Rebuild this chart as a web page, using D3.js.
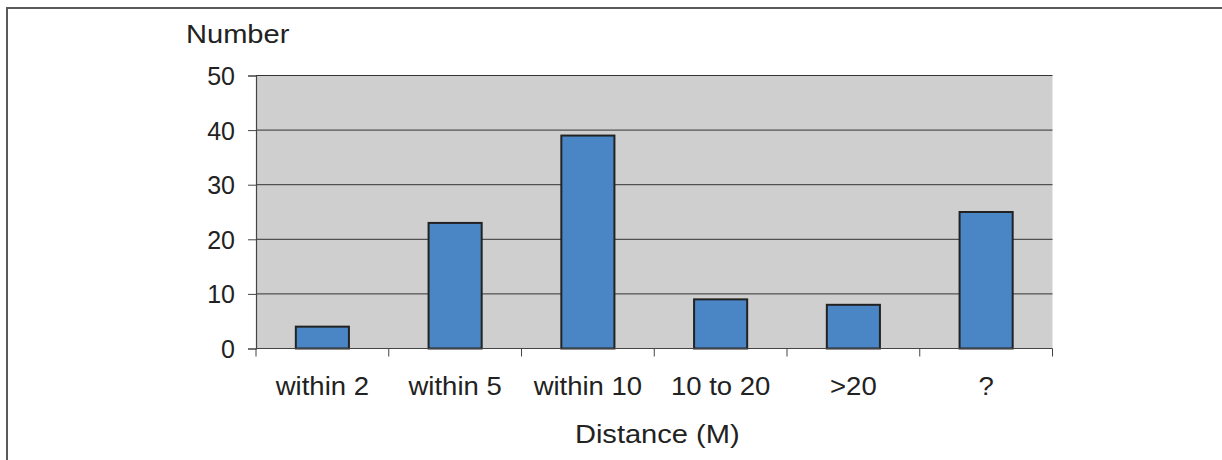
<!DOCTYPE html>
<html lang="en">
<meta charset="utf-8">
<head>
  <script src="https://d3js.org/d3.v7.min.js"></script>
  <style>
    body { margin: 0; background: #fff; }
    text { font-family: "Liberation Sans", Arial, sans-serif; fill: #222; }
  </style>
</head>
<body>
  <div id="my_dataviz"></div>
  <script>
    // data
    var categories = ["within 2", "within 5", "within 10", "10 to 20", ">20", "?"];
    var counts = [4, 23, 39, 9, 8, 25];
    var yTicks = [0, 10, 20, 30, 40, 50];

    var W = 1222, H = 460;
    var margin = { top: 75.5, right: 169.5, bottom: 111.5, left: 256 },
      width = W - margin.left - margin.right,
      height = H - margin.top - margin.bottom;

    var root = d3.select("#my_dataviz")
      .append("svg")
      .attr("width", W)
      .attr("height", H);

    // outer frame (left + top only, as in the picture)
    root.append("path")
      .attr("d", "M7,460 V8 H1222")
      .attr("fill", "none")
      .attr("stroke", "#5a5a5a")
      .attr("stroke-width", 2);

    var svg = root.append("g")
      .attr("transform", "translate(" + margin.left + "," + margin.top + ")");

    var x = d3.scaleBand().domain(categories).range([0, width]);
    var y = d3.scaleLinear().domain([0, 50]).range([height, 0]);

    // plot background
    svg.append("rect")
      .attr("width", width)
      .attr("height", height)
      .attr("fill", "#cfcfcf");

    // gridlines
    svg.selectAll(".grid").data(yTicks.filter(function (d) { return d > 0; }))
      .enter().append("line")
      .attr("x1", 0).attr("x2", width)
      .attr("y1", function (d) { return y(d); })
      .attr("y2", function (d) { return y(d); })
      .attr("stroke", "#333")
      .attr("stroke-width", 1);

    // bars
    var bw = x.bandwidth() * 0.4;
    svg.selectAll(".bar").data(counts)
      .enter().append("rect")
      .attr("x", function (d, i) { return x(categories[i]) + (x.bandwidth() - bw) / 2; })
      .attr("y", function (d) { return y(d); })
      .attr("width", bw)
      .attr("height", function (d) { return height - y(d); })
      .attr("fill", "#4a86c5")
      .attr("stroke", "#222")
      .attr("stroke-width", 2);

    // y axis
    var yAxis = svg.append("g")
      .call(d3.axisLeft(y).tickValues(yTicks).tickSize(8).tickPadding(13).tickFormat(d3.format("d")));
    yAxis.select(".domain").attr("stroke", "#444").attr("stroke-width", 1.2);
    yAxis.selectAll(".tick line").attr("stroke", "#444");
    yAxis.selectAll(".tick text")
      .style("font-size", "25px")
      .attr("fill", "#222")
      .attr("dy", "0.36em");

    // x axis: ticks on category boundaries
    var xg = svg.append("g").attr("transform", "translate(0," + height + ")");
    xg.append("line")
      .attr("x1", 0).attr("x2", width)
      .attr("stroke", "#444").attr("stroke-width", 1.2);
    var bounds = categories.map(function (c) { return x(c); }).concat([width]);
    xg.selectAll(".xt").data(bounds)
      .enter().append("line")
      .attr("x1", function (d) { return d; })
      .attr("x2", function (d) { return d; })
      .attr("y1", 0).attr("y2", 8)
      .attr("stroke", "#444");
    xg.selectAll(".xl").data(categories)
      .enter().append("text")
      .attr("transform", function (d) {
        return "translate(" + (x(d) + x.bandwidth() / 2) + ",46.5) scale(1.1,1)";
      })
      .attr("text-anchor", "middle")
      .style("font-size", "25px")
      .text(function (d) { return d; });

    // axis titles
    root.append("text")
      .attr("transform", "translate(186,43) scale(1.14,1)")
      .style("font-size", "25.5px")
      .text("Number");

    root.append("text")
      .attr("transform", "translate(" + (margin.left + width / 2 + 3) + ",443) scale(1.14,1)")
      .attr("text-anchor", "middle")
      .style("font-size", "25.5px")
      .text("Distance (M)");
  </script>
</body>
</html>
